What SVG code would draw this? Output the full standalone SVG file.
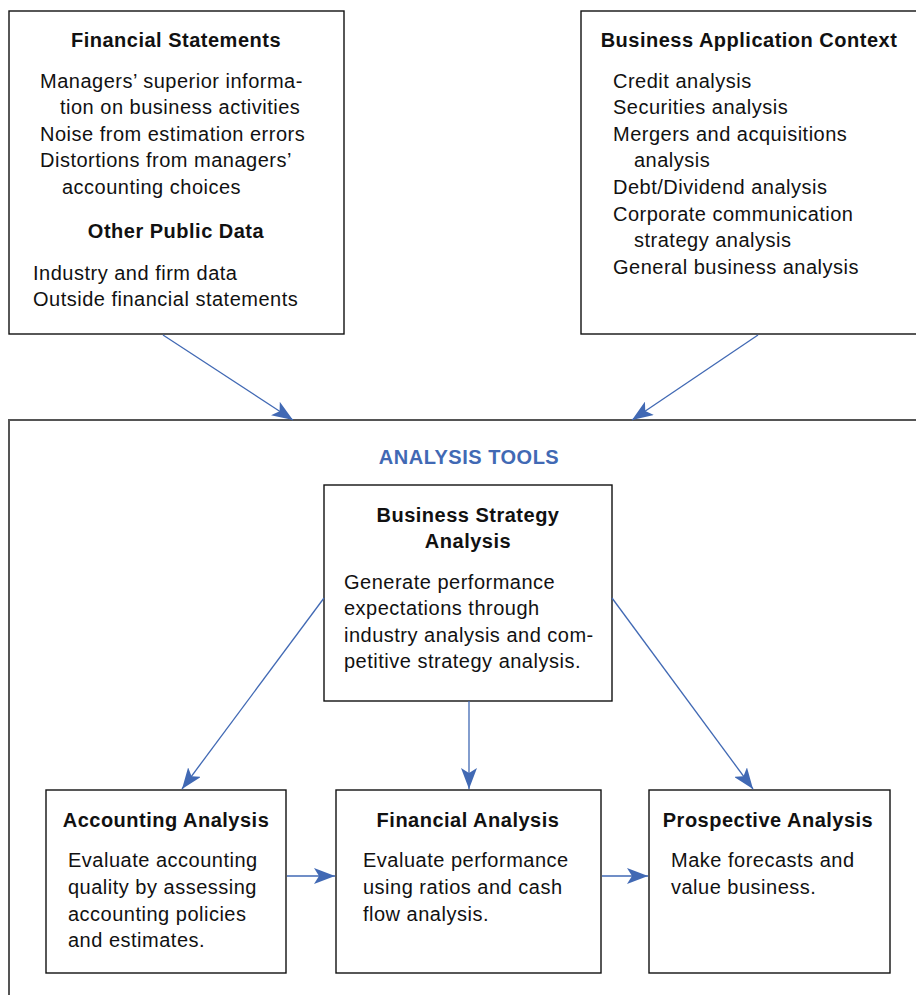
<svg xmlns="http://www.w3.org/2000/svg" width="916" height="995" viewBox="0 0 916 995">
  <style>
    .box { fill: #fff; stroke: #111; stroke-width: 1.4; }
    .frame { fill: none; stroke: #555; stroke-width: 2; }
    text { font-family: "Liberation Sans", Arial, sans-serif; font-size: 20px; letter-spacing: 0.5px; fill: #111; }
    .h { font-weight: bold; text-anchor: middle; }
    .tools { font-weight: bold; text-anchor: middle; fill: #4169B4; }
    .conn { stroke: #4169B4; stroke-width: 1.3; fill: none; marker-end: url(#arrow); }
  </style>
  <defs>
    <marker id="arrow" markerUnits="userSpaceOnUse" markerWidth="22" markerHeight="16" refX="21" refY="8" orient="auto">
      <path d="M0,0 L21,8 L0,16 L5,8 Z" fill="#4169B4"/>
    </marker>
  </defs>

  <!-- outer frame for the analysis tools -->
  <rect class="frame" x="9" y="420" width="920" height="600"/>

  <g id="financial-statements">
    <rect class="box" x="9" y="11" width="335" height="323"/>
    <text class="h" x="176" y="47">Financial Statements</text>
    <text x="40" y="88">Managers’ superior informa-</text>
    <text x="60" y="114">tion on business activities</text>
    <text x="40" y="141">Noise from estimation errors</text>
    <text x="40" y="167">Distortions from managers’</text>
    <text x="62" y="194">accounting choices</text>
    <text class="h" x="176" y="238">Other Public Data</text>
    <text x="33" y="280">Industry and firm data</text>
    <text x="33" y="306">Outside financial statements</text>
  </g>

  <g id="business-application-context">
    <rect class="box" x="581" y="11" width="345" height="323"/>
    <text class="h" x="749" y="47">Business Application Context</text>
    <text x="613" y="88">Credit analysis</text>
    <text x="613" y="114">Securities analysis</text>
    <text x="613" y="141">Mergers and acquisitions</text>
    <text x="634" y="167">analysis</text>
    <text x="613" y="194">Debt/Dividend analysis</text>
    <text x="613" y="221">Corporate communication</text>
    <text x="634" y="247">strategy analysis</text>
    <text x="613" y="274">General business analysis</text>
  </g>

  <g id="analysis-tools-title">
    <text class="tools" x="469" y="464">ANALYSIS TOOLS</text>
  </g>

  <g id="business-strategy-analysis">
    <rect class="box" x="324" y="485" width="288" height="216"/>
    <text class="h" x="468" y="522">Business Strategy</text>
    <text class="h" x="468" y="548">Analysis</text>
    <text x="344" y="589">Generate performance</text>
    <text x="344" y="615">expectations through</text>
    <text x="344" y="642">industry analysis and com-</text>
    <text x="344" y="668">petitive strategy analysis.</text>
  </g>

  <g id="accounting-analysis">
    <rect class="box" x="46" y="790" width="240" height="183"/>
    <text class="h" x="166" y="827">Accounting Analysis</text>
    <text x="68" y="867">Evaluate accounting</text>
    <text x="68" y="894">quality by assessing</text>
    <text x="68" y="921">accounting policies</text>
    <text x="68" y="947">and estimates.</text>
  </g>

  <g id="financial-analysis">
    <rect class="box" x="336" y="790" width="265" height="183"/>
    <text class="h" x="468" y="827">Financial Analysis</text>
    <text x="363" y="867">Evaluate performance</text>
    <text x="363" y="894">using ratios and cash</text>
    <text x="363" y="921">flow analysis.</text>
  </g>

  <g id="prospective-analysis">
    <rect class="box" x="649" y="790" width="241" height="183"/>
    <text class="h" x="768" y="827">Prospective Analysis</text>
    <text x="671" y="867">Make forecasts and</text>
    <text x="671" y="894">value business.</text>
  </g>

  <g id="connectors">
    <line class="conn" x1="163" y1="335" x2="293" y2="420"/>
    <line class="conn" x1="758" y1="335" x2="632" y2="420"/>
    <line class="conn" x1="324" y1="598" x2="182" y2="789"/>
    <line class="conn" x1="469" y1="701" x2="469" y2="789"/>
    <line class="conn" x1="612" y1="598" x2="753" y2="789"/>
    <line class="conn" x1="287" y1="876" x2="335" y2="876"/>
    <line class="conn" x1="602" y1="876" x2="648" y2="876"/>
  </g>
</svg>
